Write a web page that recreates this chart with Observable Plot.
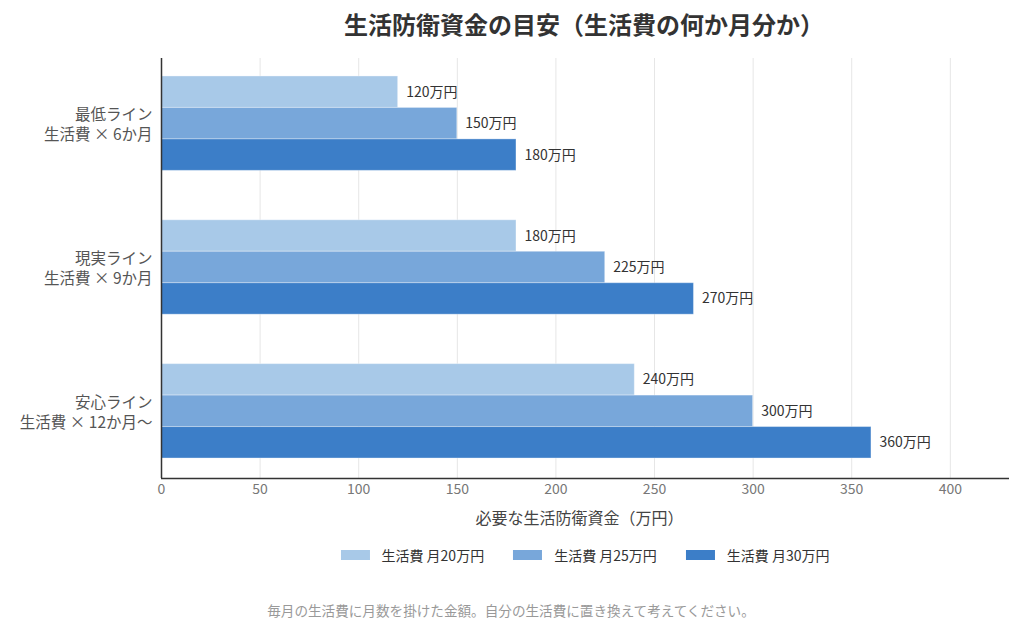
<!DOCTYPE html>
<html>
<head>
<meta charset="utf-8">
<script src="https://cdn.jsdelivr.net/npm/d3@7"></script>
<script src="https://cdn.jsdelivr.net/npm/@observablehq/plot@0.6"></script>
<style>
  html, body { margin: 0; padding: 0; background: #fff; }
  body { width: 1024px; height: 625px; position: relative; overflow: hidden; font-family: "Noto Sans CJK JP", "Noto Sans", sans-serif; }
  #title { position: absolute; top: 12px; left: 584px; transform: translateX(-50%); white-space: nowrap; font-size: 24px; font-weight: bold; color: #333; line-height: 1; }
  #chart { position: absolute; top: 50px; left: 0; }
  #legend { position: absolute; top: 546px; left: 585px; transform: translateX(-50%); display: flex; align-items: center; white-space: nowrap; font-size: 14px; color: #333; line-height: 18px; }
  .item { display: flex; align-items: center; margin: 0 14.5px; }
  .sw { width: 29px; height: 10px; margin-right: 12px; }
  #caption { position: absolute; top: 601px; left: 511px; transform: translateX(-50%); white-space: nowrap; font-size: 13.6px; color: #999; line-height: 18px; }
</style>
</head>
<body>
<div id="title"></div>
<div id="chart"></div>
<div id="legend"></div>
<div id="caption"></div>
<script>
// ---- data ----
const titleText = "生活防衛資金の目安（生活費の何か月分か）";
const xLabel = "必要な生活防衛資金（万円）";
const captionText = "毎月の生活費に月数を掛けた金額。自分の生活費に置き換えて考えてください。";
const groups = ["最低ライン", "現実ライン", "安心ライン"];
const groupSub = ["生活費 × 6か月", "生活費 × 9か月", "生活費 × 12か月〜"];
const series = ["生活費 月20万円", "生活費 月25万円", "生活費 月30万円"];
const valuesMin = [120, 150, 180];
const valuesReal = [180, 225, 270];
const valuesSafe = [240, 300, 360];
const colors = ["#a8c9e8", "#78a7da", "#3c7ec8"];
const xTicks = [0, 50, 100, 150, 200, 250, 300, 350, 400];
const unit = "万円";

// ---- build table ----
const groupValues = [valuesMin, valuesReal, valuesSafe];
const GAP = 1.571; // space between groups, in bar heights
const step = series.length + GAP;
const rows = [];
groups.forEach((g, gi) => {
  series.forEach((s, si) => {
    const y1 = gi * step + si;
    rows.push({group: g, series: s, value: groupValues[gi][si], y1, y2: y1 + 1, ym: y1 + 0.5});
  });
});
const labels = groups.map((g, gi) => ({text: g + "\n" + groupSub[gi], y: gi * step + series.length / 2}));
const yMin = -0.571;
const yMax = (groups.length - 1) * step + series.length + 0.635;

document.getElementById("title").textContent = titleText;
document.getElementById("caption").textContent = captionText;
const legend = document.getElementById("legend");
series.forEach((s, i) => {
  const it = document.createElement("div");
  it.className = "item";
  const sw = document.createElement("div");
  sw.className = "sw";
  sw.style.background = colors[i];
  const t = document.createElement("span");
  t.textContent = s;
  it.appendChild(sw); it.appendChild(t);
  legend.appendChild(it);
});

const chart = Plot.plot({
  width: 1024,
  height: 490,
  marginTop: 8,
  marginBottom: 62,
  marginLeft: 161,
  marginRight: 15,
  style: {fontFamily: "'Noto Sans CJK JP', 'Noto Sans', sans-serif", background: "transparent"},
  x: {domain: [0, 430]},
  y: {domain: [yMin, yMax], reverse: true, axis: null},
  color: {domain: series, range: colors},
  marks: [
    Plot.gridX(xTicks, {stroke: "#e6e6e6", strokeOpacity: 1, strokeWidth: 1}),
    Plot.rectX(rows, {x1: 0, x2: "value", y1: "y1", y2: "y2", fill: "series", stroke: "#ffffff", strokeOpacity: 0.35, strokeWidth: 1}),
    Plot.text(rows, {x: "value", y: "ym", text: d => d.value + unit, dx: 8, textAnchor: "start", fill: "#333", fontSize: 14}),
    Plot.text(labels, {y: "y", text: "text", frameAnchor: "left", dx: -9, textAnchor: "end", fill: "#555", fontSize: 15.5, lineHeight: 1.3}),
    Plot.ruleX([0], {stroke: "#333", strokeWidth: 1.5}),
    Plot.ruleY([yMax], {stroke: "#333", strokeWidth: 1.5}),
    Plot.axisX(xTicks, {tickSize: 0, tickPadding: 6, fontSize: 14, fill: "#777", label: null}),
    Plot.text([xLabel], {text: d => d, frameAnchor: "bottom", dy: 40, dx: -6, fontSize: 16, fill: "#444", lineAnchor: "middle"})
  ]
});
document.getElementById("chart").appendChild(chart);
</script>
</body>
</html>
